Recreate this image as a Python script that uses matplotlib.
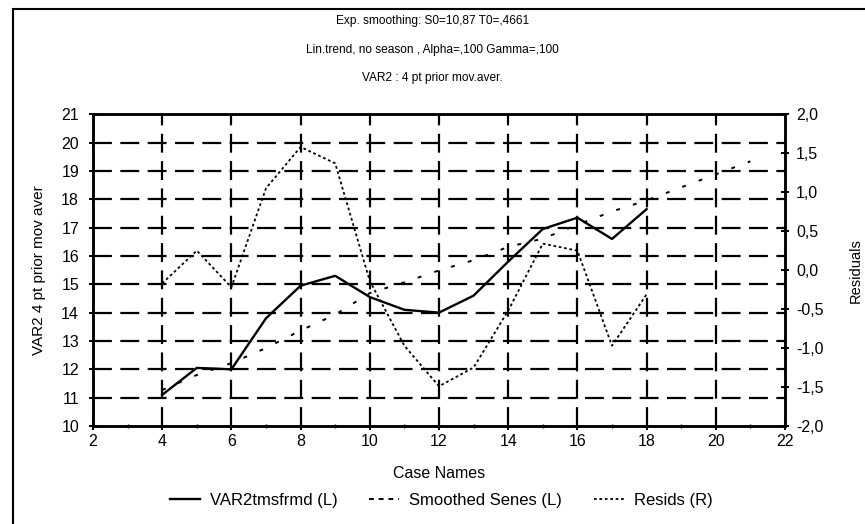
import matplotlib
matplotlib.use('Agg')

import matplotlib.pyplot as plt
from matplotlib.patches import Rectangle
from matplotlib.ticker import FuncFormatter, MultipleLocator

plt.rcParams['font.family'] = ['Liberation Sans', 'DejaVu Sans']

# dados
casos = [4, 5, 6, 7, 8, 9, 10, 11, 12, 13, 14, 15, 16, 17, 18]
var2 = [11.1, 12.05, 12.0, 13.8, 14.95, 15.3, 14.55, 14.1, 14.0, 14.6, 15.8, 16.95, 17.35, 16.6, 17.65]
residuos = [-0.17, 0.25, -0.22, 1.05, 1.58, 1.37, -0.14, -0.97, -1.49, -1.25, -0.52, 0.34, 0.25, -0.97, -0.31]
casos_suav = [4, 5, 6, 7, 8, 9, 10, 11, 12, 13, 14, 15, 16, 17, 18, 19, 20, 21]
suavizada = [11.27, 11.8, 12.22, 12.75, 13.37, 13.93, 14.69, 15.07, 15.49, 15.85,
             16.32, 16.61, 17.1, 17.57, 17.96, 18.42, 18.88, 19.34]

titulos = ['Exp. smoothing: S0=10,87 T0=,4661',
           'Lin.trend, no season , Alpha=,100 Gamma=,100',
           'VAR2 : 4 pt prior mov.aver.']

fig = plt.figure(figsize=(8.65, 5.24), dpi=100)
ax = fig.add_axes([0.1075, 0.187, 0.8, 0.595])
ax2 = ax.twinx()

grade = dict(color='black', linewidth=1.6, linestyle=(0, (8.5, 3.8)))
for x in range(4, 22, 2):
    ax.axvline(x, zorder=1, **grade)
for y in range(11, 21):
    ax.axhline(y, zorder=1, **grade)

l1, = ax.plot(casos, var2, color='black', linewidth=1.7, zorder=3,
              label='VAR2tmsfrmd (L)')
l2, = ax.plot(casos_suav, suavizada, color='black', linewidth=1.4, zorder=3,
              linestyle=(0, (2, 7)), label='Smoothed Senes (L)')
l3, = ax2.plot(casos, residuos, color='black', linewidth=1.3, zorder=3,
               linestyle=(0, (1.5, 1.5)), label='Resids (R)')
l2_leg, = ax.plot([], [], color='black', linewidth=1.4, linestyle=(0, (2.5, 2.5)),
                  label='Smoothed Senes (L)')

ax.set_xlim(2, 22)
ax.set_ylim(10, 21)
ax2.set_ylim(-2, 2)

ax.xaxis.set_major_locator(MultipleLocator(2))
ax.xaxis.set_minor_locator(MultipleLocator(1))
ax.yaxis.set_major_locator(MultipleLocator(1))
ax2.yaxis.set_major_locator(MultipleLocator(0.5))
ax2.yaxis.set_major_formatter(FuncFormatter(lambda v, p: f'{v:.1f}'.replace('.', ',')))

for a in (ax, ax2):
    for s in a.spines.values():
        s.set_linewidth(1.8)
    a.tick_params(axis='both', which='major', direction='inout', length=6,
                  width=1.4, labelsize=11.5, pad=3)
    a.tick_params(axis='both', which='minor', direction='inout', length=3, width=1)
ax.tick_params(axis='y', pad=7)
ax2.tick_params(axis='y', pad=5)

ax.set_xlabel('Case Names', fontsize=11.5, labelpad=12)
ax.set_ylabel('VAR2 4 pt prior mov aver', fontsize=11, labelpad=11)
ax2.set_ylabel('Residuals', fontsize=10.5, labelpad=18)

for i, t in enumerate(titulos):
    fig.text(0.5, 0.959 - i * 0.0535, t, ha='center', va='center', fontsize=8.6)

fig.legend(handles=[l1, l2_leg, l3], loc='center', bbox_to_anchor=(0.51, 0.045),
           ncol=3, frameon=False, fontsize=12, handlelength=1.8,
           columnspacing=1.9, handletextpad=0.6)

# moldura externa (so esquerda e topo visiveis)
fig.add_artist(Rectangle((0.015, -0.2), 1.2, 1.183, transform=fig.transFigure,
                         fill=False, edgecolor='black', linewidth=1.5))

fig.savefig('out.png', dpi=100)
